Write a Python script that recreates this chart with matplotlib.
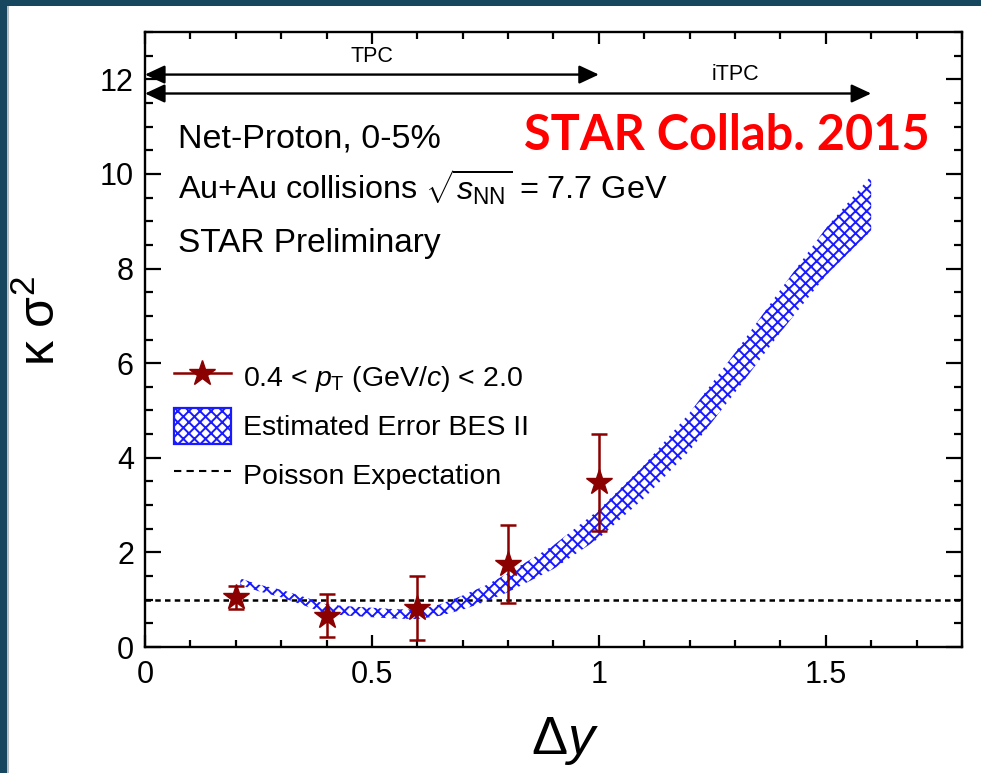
import matplotlib
matplotlib.use('Agg')
import matplotlib.pyplot as plt
from matplotlib.lines import Line2D
from matplotlib.patches import Patch, Rectangle
from matplotlib.ticker import MultipleLocator, FuncFormatter

plt.rcParams['font.family'] = ['Liberation Sans', 'DejaVu Sans']
plt.rcParams['mathtext.fontset'] = 'custom'
plt.rcParams['mathtext.rm'] = 'Liberation Sans'
plt.rcParams['mathtext.it'] = 'Liberation Sans:italic'
plt.rcParams['mathtext.bf'] = 'Liberation Sans:bold'
plt.rcParams['hatch.linewidth'] = 1.4

# ---------------- data ----------------
delta_y = [0.2, 0.4, 0.6, 0.8, 1.0]
kappa_sigma2 = [1.05, 0.66, 0.82, 1.75, 3.48]
kappa_sigma2_err = [0.25, 0.45, 0.68, 0.83, 1.02]

band_x = [0.21, 0.25, 0.30, 0.35, 0.40, 0.45, 0.50, 0.55, 0.60, 0.65, 0.70,
          0.75, 0.80, 0.90, 1.00, 1.10, 1.20, 1.30, 1.40, 1.50, 1.60]
band_low = [1.31, 1.18, 1.05, 0.88, 0.70, 0.66, 0.63, 0.60, 0.59, 0.66, 0.79,
            0.96, 1.16, 1.65, 2.30, 3.15, 4.15, 5.38, 6.65, 7.85, 8.80]
band_high = [1.45, 1.32, 1.21, 1.06, 0.90, 0.86, 0.83, 0.80, 0.79, 0.90, 1.09,
             1.30, 1.56, 2.15, 2.90, 3.85, 4.95, 6.22, 7.55, 8.85, 9.96]

poisson_expectation = 1.0

detector_names = ['TPC', 'iTPC']
detector_dy_max = [1.0, 1.6]
detector_arrow_level = [12.1, 11.7]

series_labels = [r'0.4 < $p_{\mathregular{T}}$ (GeV/$c$) < 2.0',
                 'Estimated Error BES II',
                 'Poisson Expectation']

# ---------------- figure ----------------
star_color = '#8b0000'
band_color = '#1a1aff'

fig = plt.figure(figsize=(9.81, 7.73), dpi=100)
fig.patch.set_facecolor('white')
border = '#17465f'
fig.patches.append(Rectangle((0, 0), 7 / 981, 1, transform=fig.transFigure,
                             facecolor=border, edgecolor='none', zorder=-10))
fig.patches.append(Rectangle((7 / 981, 0), 2 / 981, 1, transform=fig.transFigure,
                             facecolor='#b8c0c4', edgecolor='none', zorder=-10))
fig.patches.append(Rectangle((0, 1 - 6 / 773), 1, 6 / 773, transform=fig.transFigure,
                             facecolor=border, edgecolor='none', zorder=-10))

ax = fig.add_axes([0.1478, 0.163, 0.8328, 0.7956])
ax.set_xlim(0, 1.8)
ax.set_ylim(0, 13)

# band
ax.fill_between(band_x, band_low, band_high, facecolor='none',
                edgecolor=band_color, hatch='xxx', linewidth=0, zorder=2)

# Poisson line
ax.axhline(poisson_expectation, color='black', lw=1.8, ls=(0, (2.2, 1.7)), zorder=1)

# data points
ax.errorbar(delta_y, kappa_sigma2, yerr=kappa_sigma2_err, fmt='*', color=star_color,
            ms=19, capsize=5.5, elinewidth=1.8, capthick=1.8, zorder=3)

# detector acceptance arrows
for name, xmax, lev in zip(detector_names, detector_dy_max, detector_arrow_level):
    ax.annotate('', xy=(xmax, lev), xytext=(0.0, lev),
                arrowprops=dict(arrowstyle='<|-|>,head_length=0.6,head_width=0.28',
                                mutation_scale=20, color='black', lw=1.7,
                                shrinkA=0, shrinkB=0), annotation_clip=False)
ax.text(0.5, 12.27, 'TPC', ha='center', va='bottom', fontsize=15.5)
ax.text(1.3, 11.87, 'iTPC', ha='center', va='bottom', fontsize=15.5)

# captions
ax.text(0.04, 0.813, 'Net-Proton, 0-5%', transform=ax.transAxes, fontsize=24.5,
        va='baseline', ha='left')
ax.text(0.04, 0.727, r'Au+Au collisions $\sqrt{s_{\mathregular{NN}}}$ = 7.7 GeV',
        transform=ax.transAxes, fontsize=23.3, va='baseline', ha='left')
ax.text(0.04, 0.642, 'STAR Preliminary', transform=ax.transAxes, fontsize=24,
        va='baseline', ha='left')
ax.text(0.961, 0.808, 'STAR Collab. 2015', transform=ax.transAxes, fontsize=35,
        va='baseline', ha='right', color='#ff0000', fontweight='bold',
        family=['Lato', 'DejaVu Sans'])

# legend
h1 = Line2D([], [], color=star_color, marker='*', ms=19, lw=1.8)
h2 = Patch(facecolor='none', edgecolor=band_color, hatch='xxx', lw=1.6)
h3 = Line2D([], [], color='black', lw=1.5, ls=(0, (3.5, 2.5)))
ax.legend([h1, h2, h3], series_labels, loc='upper left', bbox_to_anchor=(0.035, 0.468),
          frameon=False, fontsize=20.5, handlelength=2.0, handleheight=1.55,
          labelspacing=0.47, handletextpad=0.45, borderaxespad=0, borderpad=0)

# axes styling
for s in ax.spines.values():
    s.set_linewidth(1.7)
ax.xaxis.set_major_locator(MultipleLocator(0.5))
ax.xaxis.set_minor_locator(MultipleLocator(0.1))
ax.yaxis.set_major_locator(MultipleLocator(2))
ax.yaxis.set_minor_locator(MultipleLocator(0.5))
ax.xaxis.set_major_formatter(FuncFormatter(lambda v, p: f'{v:g}'))
ax.tick_params(which='both', direction='in', top=True, right=True, width=1.6,
               labelsize=22)
ax.tick_params(axis='y', which='major', length=11.5, pad=8)
ax.tick_params(axis='y', which='minor', length=5.8)
ax.tick_params(axis='x', which='major', length=8.6, pad=9)
ax.tick_params(axis='x', which='minor', length=5)

ax.set_xlabel(r'$\mathregular{\Delta}y$', fontsize=39)
ax.xaxis.set_label_coords(0.514, -0.11)
ax.xaxis.label.set_va('top')
ax.set_ylabel(r'$\mathregular{\kappa\ \sigma^2}$', fontsize=36)
ax.yaxis.set_label_coords(-0.098, 0.53)

fig.savefig('out.png', dpi=100)
